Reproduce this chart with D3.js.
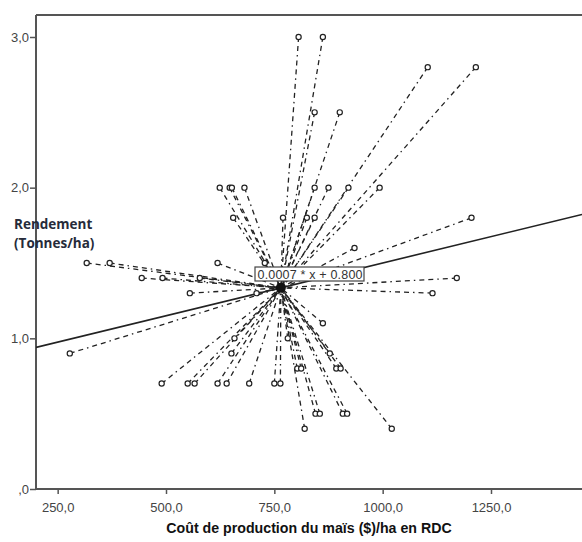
<!DOCTYPE html>
<html>
<head>
  <meta charset="utf-8">
  <title>Rendement vs cout</title>
  <script src="https://cdn.jsdelivr.net/npm/d3@7"></script>
  <style>
    body { margin: 0; background: #fff; }
    svg { display: block; }
  </style>
</head>
<body>
<div id="chart"></div>
<script>
  // cost ($/ha) and yield (t/ha) of each farm
  var cost = [806, 862, 1104, 1215, 843, 901,
              624, 647, 652, 681, 843, 875, 921, 993,
              655, 770, 825, 843, 1205, 935,
              317, 370, 619, 728, 444, 492, 578, 1171,
              555, 709, 1115, 862, 658, 781,
              278, 651, 878, 803, 812, 893, 903,
              490, 550, 566, 619, 640, 692, 750, 764,
              845, 855, 908, 918, 820, 1021];
  var yieldT = [3.0, 3.0, 2.8, 2.8, 2.5, 2.5,
                2.0, 2.0, 2.0, 2.0, 2.0, 2.0, 2.0, 2.0,
                1.8, 1.8, 1.8, 1.8, 1.8, 1.6,
                1.5, 1.5, 1.5, 1.5, 1.4, 1.4, 1.4, 1.4,
                1.3, 1.3, 1.3, 1.1, 1.0, 1.0,
                0.9, 0.9, 0.9, 0.8, 0.8, 0.8, 0.8,
                0.7, 0.7, 0.7, 0.7, 0.7, 0.7, 0.7, 0.7,
                0.5, 0.5, 0.5, 0.5, 0.4, 0.4];
  var centroid = [765, 1.335];      // mean point shown by SPSS
  var slope = 0.0007, intercept = 0.800;
  var xTicks = [250, 500, 750, 1000, 1250];
  var yTicks = [0, 1, 2, 3];

  var width = 582, height = 542;
  var mLeft = 36, mTop = 15, mBottom = 489;

  var svg = d3.select('#chart').append('svg')
    .attr('width', width).attr('height', height);

  var x = d3.scaleLinear().domain([200, 1460]).range([mLeft, width]);
  var y = d3.scaleLinear().domain([0, 3]).range([mBottom, 37]);

  svg.append('defs').append('clipPath').attr('id', 'plotclip')
    .append('rect').attr('x', mLeft).attr('y', mTop)
    .attr('width', width - mLeft).attr('height', mBottom - mTop);

  var frameColor = '#555';

  // top border
  svg.append('line')
    .attr('x1', mLeft).attr('x2', width).attr('y1', mTop).attr('y2', mTop)
    .style('stroke', frameColor).style('stroke-width', 2);

  function fmt(d) {
    return d === 0 ? ',0' : d.toFixed(1).replace('.', ',');
  }

  var xAxis = svg.append('g')
    .attr('transform', 'translate(0,' + mBottom + ')')
    .call(d3.axisBottom(x).tickValues(xTicks).tickFormat(fmt).tickSize(5).tickSizeOuter(0));
  var yAxis = svg.append('g')
    .attr('transform', 'translate(' + mLeft + ',0)')
    .call(d3.axisLeft(y).tickValues(yTicks).tickFormat(fmt).tickSize(6).tickSizeOuter(0));

  [xAxis, yAxis].forEach(function(g){
    g.select('.domain').style('stroke', frameColor).style('stroke-width', 2);
    g.selectAll('.tick line').style('stroke', frameColor).style('stroke-width', 1.5);
    g.selectAll('.tick text')
      .style('font-family', 'Liberation Sans, Arial, sans-serif')
      .style('font-size', '13px').style('fill', '#444');
  });
  yAxis.select('.domain').attr('d', 'M0,' + mTop + 'V' + mBottom);
  xAxis.select('.domain').attr('d', 'M' + mLeft + ',0H' + width);
  xAxis.selectAll('.tick text').attr('dy', '1.15em');
  yAxis.selectAll('.tick text').attr('x', -7);

  var plot = svg.append('g').attr('clip-path', 'url(#plotclip)');

  var pts = cost.map(function(c, i){ return [c, yieldT[i]]; });

  // spikes to centroid (dash dash dot)
  plot.selectAll('line.spike').data(pts).enter().append('line')
    .attr('class', 'spike')
    .attr('x1', function(d){ return x(d[0]); })
    .attr('y1', function(d){ return y(d[1]); })
    .attr('x2', x(centroid[0]))
    .attr('y2', y(centroid[1]))
    .style('stroke', '#222')
    .style('stroke-width', 1.3)
    .style('stroke-dasharray', '5,4,5,4,1.5,4');

  // fit line
  var xd = x.domain();
  plot.append('line')
    .attr('x1', x(xd[0])).attr('y1', y(intercept + slope * xd[0]))
    .attr('x2', x(xd[1])).attr('y2', y(intercept + slope * xd[1]))
    .style('stroke', '#222').style('stroke-width', 1.6);

  // markers
  plot.selectAll('circle.pt').data(pts).enter().append('circle')
    .attr('class', 'pt')
    .attr('cx', function(d){ return x(d[0]); })
    .attr('cy', function(d){ return y(d[1]); })
    .attr('r', 2.6)
    .style('fill', '#fff').style('stroke', '#222').style('stroke-width', 1.2);

  plot.append('circle')
    .attr('cx', x(centroid[0])).attr('cy', y(centroid[1]))
    .attr('r', 5).style('fill', '#111');

  // equation label
  var lbl = svg.append('g');
  lbl.append('rect')
    .attr('x', 255).attr('y', 267).attr('width', 109).attr('height', 14)
    .style('fill', '#fff').style('stroke', '#444').style('stroke-width', 1.2);
  lbl.append('text')
    .attr('x', 310).attr('y', 279)
    .attr('text-anchor', 'middle')
    .attr('textLength', 105)
    .style('font-family', 'Liberation Sans, Arial, sans-serif')
    .style('font-size', '12.5px').style('fill', '#333')
    .text(slope.toFixed(4) + ' * x + ' + intercept.toFixed(3));

  // axis titles
  svg.append('text')
    .attr('x', 309).attr('y', 533)
    .attr('text-anchor', 'middle')
    .style('font-family', 'Liberation Sans, Arial, sans-serif')
    .style('font-weight', 'bold').style('font-size', '14.2px').style('fill', '#111')
    .text('Coût de production du maïs ($)/ha en RDC');

  var yt = svg.append('text')
    .style('font-family', 'Open Sans, sans-serif')
    .style('font-weight', 'bold').style('font-size', '13.5px').style('fill', '#262b3a');
  yt.append('tspan').attr('x', 14).attr('y', 229).text('Rendement');
  yt.append('tspan').attr('x', 14).attr('y', 248).text('(Tonnes/ha)');
</script>
</body>
</html>
